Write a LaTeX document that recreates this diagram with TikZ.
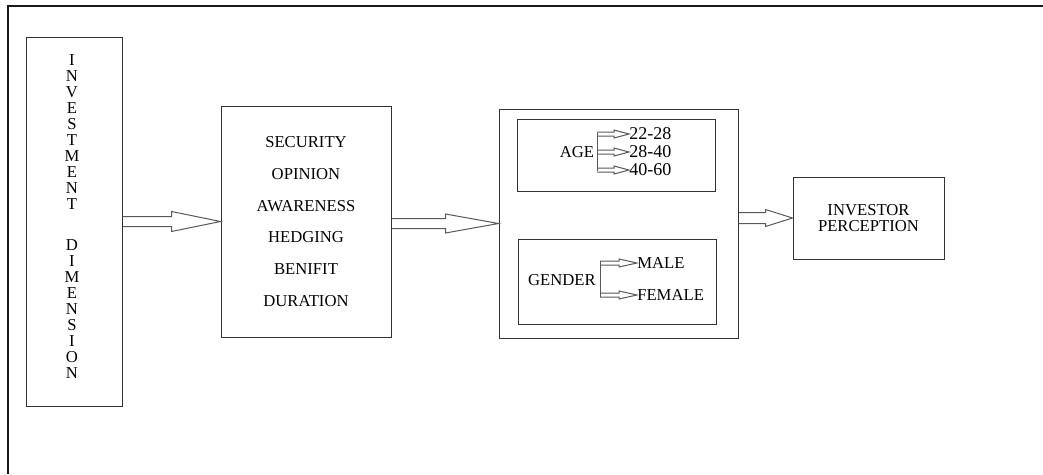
\documentclass[tikz,border=0pt]{standalone}
\usepackage{fontspec}
\setmainfont{Liberation Serif}
\usepackage{tikz}
\usetikzlibrary{calc, positioning}
\tikzset{
	block/.style={draw=black!80, line width=0.75pt, fill=white, inner sep=0pt},
	blockarrow/.style={draw=black!65, line width=0.75pt},
	txt/.style={inner sep=0pt, font=\fontsize{12.5}{12}\selectfont},
	rangetxt/.style={inner sep=0pt, anchor=west, font=\fontsize{13.5}{12}\selectfont}
}
% open block arrow: start, tip, shaft half width, head half width, head length
\newcommand{\fatarrow}[5]{
	\draw[blockarrow] ($#1+(0,-#3)$) -- ($#2+(-#5,-#3)$) -- ($#2+(-#5,-#4)$) -- #2
		-- ($#2+(-#5,#4)$) -- ($#2+(-#5,#3)$) -- ($#1+(0,#3)$);
}

\begin{document}
\begin{tikzpicture}[x=0.75pt, y=-0.75pt]
			\useasboundingbox (0,0) rectangle (1043,475);
			% frame
			\draw[line width=1.1pt, black!90] (8,474) -- (8,6) -- (1043,6);
			% Investment dimension
			\node[block, minimum width=72pt, minimum height=276.75pt] (invdim) at (74,221.5) {};
			\node[txt, align=center] (invlabel) at (72,217)
				{I\\N\\V\\E\\S\\T\\M\\E\\N\\T\\[18.75pt]D\\I\\M\\E\\N\\S\\I\\O\\N};
			% Aspects
			\node[block, minimum width=127.5pt, minimum height=173.25pt, align=center,
				font=\fontsize{12.5}{23.9}\selectfont]
				(aspects) at (306,221.5) {SECURITY\\OPINION\\AWARENESS\\HEDGING\\BENIFIT\\DURATION};
			% Demography
			\node[block, minimum width=179.25pt, minimum height=171.75pt] (demo) at (618.5,223.5) {};
			\node[block, minimum width=148.5pt, minimum height=54.3pt] (agebox) at (616.7,155.5) {};
			\node[block, minimum width=148.5pt, minimum height=64.3pt] (genderbox) at (617,282) {};
			% Perception
			\node[block, minimum width=113.25pt, minimum height=61.5pt, txt, align=center]
				(percep) at (868.5,218) {INVESTOR\\PERCEPTION};

			% Age
			\node[txt] (age) at (577,152) {AGE};
			\coordinate (agetop) at (597,133);
			\coordinate (agebot) at (597,171);
			\draw[blockarrow] (agetop) -- (agebot);
			\node[rangetxt] (age1) at (629,134) {22-28};
			\node[rangetxt] (age2) at (629,152) {28-40};
			\node[rangetxt] (age3) at (629,170) {40-60};
			\fatarrow{(agetop |- age1.west)}{(age1.west)}{2}{4}{15}
			\fatarrow{(agetop |- age2.west)}{(age2.west)}{2}{4}{15}
			\fatarrow{(agetop |- age3.west)}{(age3.west)}{2}{4}{15}

			% Gender
			\node[txt] (gender) at (562,280) {GENDER};
			\coordinate (gentop) at (600,261);
			\coordinate (genbot) at (600,297);
			\draw[blockarrow] (gentop) -- (genbot);
			\node[txt, anchor=west] (male) at (637,263) {MALE};
			\node[txt, anchor=west] (female) at (637,295) {FEMALE};
			\fatarrow{(gentop |- male.west)}{(male.west)}{2}{4}{18}
			\fatarrow{(gentop |- female.west)}{(female.west)}{2}{4}{18}

			% block arrows
			\fatarrow{(invdim.east |- aspects.west)}{(aspects.west)}{5}{10}{49}
			\fatarrow{(aspects.east |- demo.west)}{(demo.west)}{5}{9.5}{53}
			\fatarrow{(demo.east |- percep.west)}{(percep.west)}{5.5}{8.5}{27}
\end{tikzpicture}
\end{document}
